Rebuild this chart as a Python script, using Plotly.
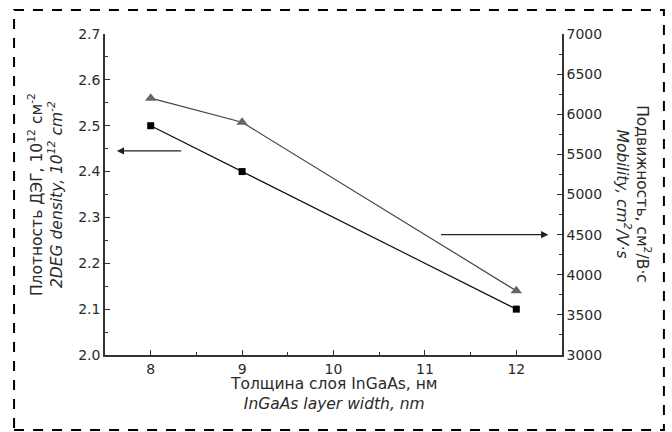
import plotly.graph_objects as go

# InGaAs layer width, nm
width_nm = [8, 9, 12]
# 2DEG sheet density, 10^12 cm^-2 (left axis)
density = [2.50, 2.40, 2.10]
# Electron mobility, cm^2/V·s (right axis)
mobility = [6200, 5900, 3800]

x_ticks = [8, 9, 10, 11, 12]
left_ticks = [2.0, 2.1, 2.2, 2.3, 2.4, 2.5, 2.6, 2.7]
right_ticks = [3000, 3500, 4000, 4500, 5000, 5500, 6000, 6500, 7000]

FONT = "DejaVu Sans, Arial, sans-serif"
INK = "#2a2a2a"
AXIS = "#333333"
TITLE_SIZE = 15.5

fig = go.Figure()

fig.add_trace(go.Scatter(
    x=width_nm, y=density, mode="lines+markers",
    line=dict(color="#111111", width=1.2),
    marker=dict(symbol="square", size=7, color="#000000"),
    yaxis="y", showlegend=False,
))
fig.add_trace(go.Scatter(
    x=width_nm, y=mobility, mode="lines+markers",
    line=dict(color="#444444", width=1.2),
    marker=dict(symbol="triangle-up", size=10, color="#666666"),
    yaxis="y2", showlegend=False,
))

axis_common = dict(
    showline=True, linecolor=AXIS, linewidth=1.5,
    ticks="inside", ticklen=5, tickwidth=1.2, tickcolor=AXIS,
    showgrid=False, zeroline=False,
    tickfont=dict(family=FONT, size=14, color=INK),
)

fig.update_layout(
    width=672, height=432,
    margin=dict(l=105, r=110, t=34, b=77),
    paper_bgcolor="white", plot_bgcolor="white",
    font=dict(family=FONT, size=14, color=INK),
    xaxis=dict(
        range=[7.5, 12.5], tickvals=x_ticks,
        minor=dict(dtick=0.5, ticks="inside", ticklen=3, tickcolor=AXIS),
        **axis_common,
    ),
    yaxis=dict(
        range=[2.0, 2.7], tickvals=left_ticks, tickformat=".1f",
        minor=dict(dtick=0.05, ticks="inside", ticklen=3, tickcolor=AXIS),
        **axis_common,
    ),
    yaxis2=dict(
        range=[3000, 7000], tickvals=right_ticks, overlaying="y", side="right",
        minor=dict(dtick=250, ticks="inside", ticklen=3, tickcolor=AXIS),
        **axis_common,
    ),
)

# Axis titles (bilingual, two lines each)
fig.add_annotation(
    xref="paper", yref="paper", x=0.5, y=-0.12,
    text="Толщина слоя InGaAs, нм<br><i>InGaAs layer width, nm</i>",
    showarrow=False, xanchor="center", yanchor="middle",
    font=dict(family=FONT, size=TITLE_SIZE, color=INK),
)
fig.add_annotation(
    xref="paper", yref="paper", x=-0.13, y=0.5,
    text="Плотность ДЭГ, 10<sup>12</sup> см<sup>-2</sup><br>"
         "<i>2DEG density, 10<sup>12</sup> cm<sup>-2</sup></i>",
    showarrow=False, textangle=-90, xanchor="center", yanchor="middle",
    font=dict(family=FONT, size=TITLE_SIZE, color=INK),
)
fig.add_annotation(
    xref="paper", yref="paper", x=1.156, y=0.5,
    text="Подвижность, см<sup>2</sup>/В·с<br>"
         "<i>Mobility, cm<sup>2</sup>/V·s</i>",
    showarrow=False, textangle=90, xanchor="center", yanchor="middle",
    font=dict(family=FONT, size=TITLE_SIZE, color=INK),
)

# Arrows pointing each curve to its axis
fig.add_annotation(
    x=7.63, y=2.445, ax=8.35, ay=2.445,
    xref="x", yref="y", axref="x", ayref="y",
    text="", showarrow=True, arrowhead=2, arrowsize=1.2,
    arrowwidth=1.2, arrowcolor="#222222",
)
fig.add_annotation(
    x=12.35, y=4500, ax=11.16, ay=4500,
    xref="x", yref="y2", axref="x", ayref="y2",
    text="", showarrow=True, arrowhead=2, arrowsize=1.2,
    arrowwidth=1.2, arrowcolor="#222222",
)

# Dashed frame around the figure
fig.add_shape(
    type="rect", xref="paper", yref="paper",
    x0=-0.199, x1=1.223, y0=-0.234, y1=1.075,
    line=dict(color="black", width=2, dash="10px,9px"),
    fillcolor="rgba(0,0,0,0)", layer="above",
)

fig.write_html("out.html")
